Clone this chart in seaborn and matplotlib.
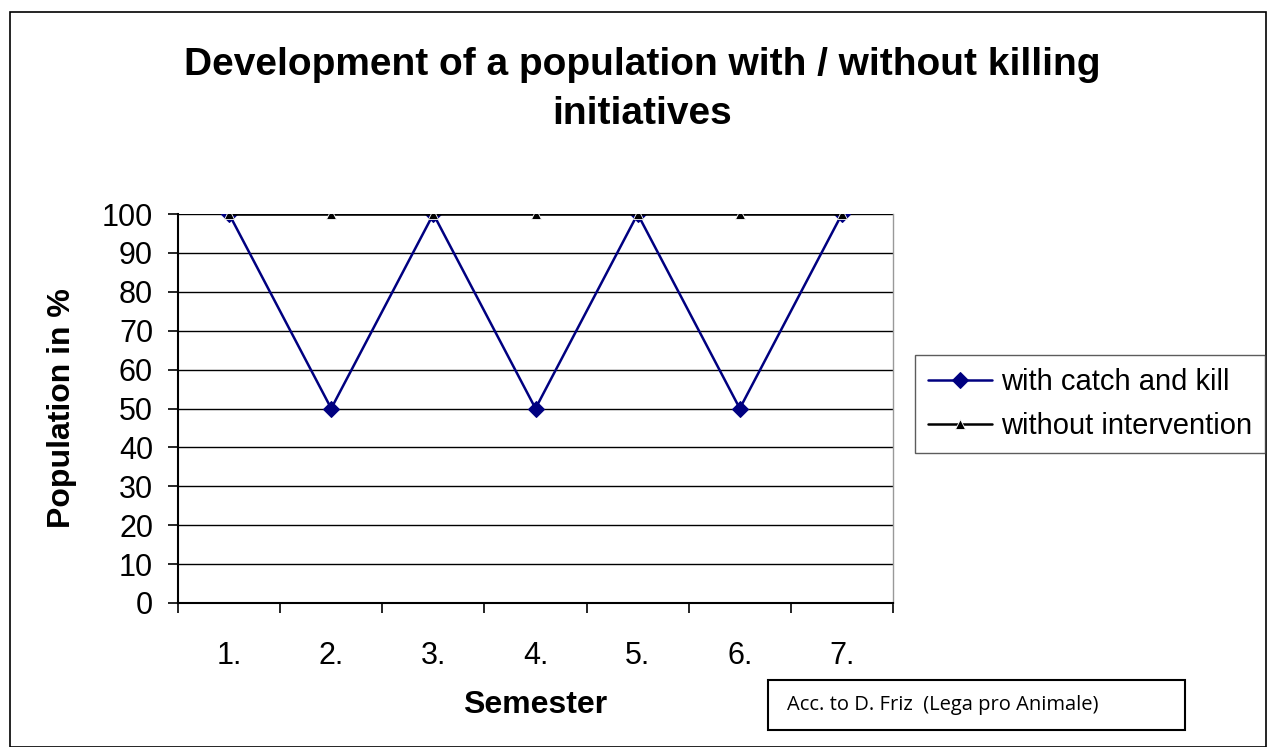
import matplotlib
matplotlib.use("Agg")
import matplotlib.pyplot as plt
import seaborn as sns
import pandas as pd
import numpy as np
from matplotlib.patches import Rectangle

semesters = ["1.", "2.", "3.", "4.", "5.", "6.", "7."]
with_catch = [100, 50, 100, 50, 100, 50, 100]
without_int = [100, 100, 100, 100, 100, 100, 100]
series_names = ["with catch and kill", "without intervention"]

sns.set_theme(style="white")
plt.rcParams['font.family'] = ['Liberation Sans', 'DejaVu Sans']
for k in ["text.color", "axes.labelcolor", "xtick.color", "ytick.color"]:
    plt.rcParams[k] = "black"

fig = plt.figure(figsize=(12.7, 7.47), dpi=100)
ax = fig.add_axes([178/1270, 1-603/747, (893-178)/1270, (603-214)/747])

pos = np.arange(len(semesters))
df = pd.DataFrame({
    "pos": np.concatenate([pos, pos]),
    "val": with_catch + without_int,
    "series": [series_names[0]]*len(pos) + [series_names[1]]*len(pos),
})

sns.lineplot(data=df[df.series == series_names[0]], x="pos", y="val", ax=ax,
             color="#000080", marker="D", markersize=8, linewidth=1.8,
             markeredgecolor="#000080", label=series_names[0], zorder=3)
sns.lineplot(data=df[df.series == series_names[1]], x="pos", y="val", ax=ax,
             color="black", marker="^", markersize=7, linewidth=1.8,
             markeredgecolor="white", markeredgewidth=0.6,
             label=series_names[1], zorder=4)

ax.set_xlim(-0.5, len(semesters) - 0.5)
ax.set_ylim(0, 100)
ax.set_yticks(np.arange(0, 101, 10))
ax.set_xticks(pos)
ax.set_xticklabels(semesters)
ax.set_xticks(np.arange(-0.5, len(semesters)), minor=True)
ax.tick_params(axis="x", which="major", length=0, pad=27, labelsize=22)
ax.tick_params(axis="x", which="minor", length=7, width=1.2, direction="out", color="black", bottom=True)
ax.tick_params(axis="y", length=7, width=1.2, direction="out", color="black", left=True, labelsize=22, pad=11)
for y in np.arange(10, 101, 10):
    ax.axhline(y, color="black", linewidth=1.0, zorder=1)
ax.spines["left"].set_color("black")
ax.spines["left"].set_linewidth(1.5)
ax.spines["bottom"].set_color("black")
ax.spines["bottom"].set_linewidth(1.5)
ax.spines["right"].set_color("#999999")
ax.spines["right"].set_linewidth(1.0)
ax.spines["top"].set_visible(False)

ax.set_xlabel("Semester", fontsize=23, fontweight="bold")
ax.set_ylabel("Population in %", fontsize=23, fontweight="bold")
ax.xaxis.set_label_coords((535-178)/(893-178), -(705-603)/(603-214))
ax.yaxis.set_label_coords(-(178-62)/(893-178), 0.5)
ax.xaxis.label.set_va("center")
ax.yaxis.label.set_va("center")

handles, labels = ax.get_legend_handles_labels()
order = [labels.index(series_names[0]), labels.index(series_names[1])]
if ax.get_legend():
    ax.get_legend().remove()
leg = fig.legend([handles[i] for i in order], [labels[i] for i in order],
                 loc="center", bbox_to_anchor=(1090/1270, 1-404/747),
                 fontsize=21, frameon=True, fancybox=False, edgecolor="#333333",
                 handlelength=2.2, handletextpad=0.3, borderpad=0.45, labelspacing=0.55,
                 borderaxespad=0)
leg.get_frame().set_linewidth(1.0)

fig.suptitle("Development of a population with / without killing\ninitiatives",
             x=642/1270, y=1-47/747, fontsize=28, fontweight="bold", va="top", linespacing=1.45)

fig.patches.append(Rectangle((768/1270, 1-730/747), (1185-768)/1270, 50/747,
                             transform=fig.transFigure, fill=False, edgecolor="black", linewidth=1.5))
fig.text(787/1270, 1-705/747, "Acc. to D. Friz  (Lega pro Animale)", fontsize=14.5, va="center", ha="left",
         family=["Open Sans", "DejaVu Sans"])

fig.patches.append(Rectangle((10/1270, 0), (1266-10)/1270, 1-12/747,
                             transform=fig.transFigure, fill=False, edgecolor="black", linewidth=1.2))

fig.savefig("out.png", dpi=100)
